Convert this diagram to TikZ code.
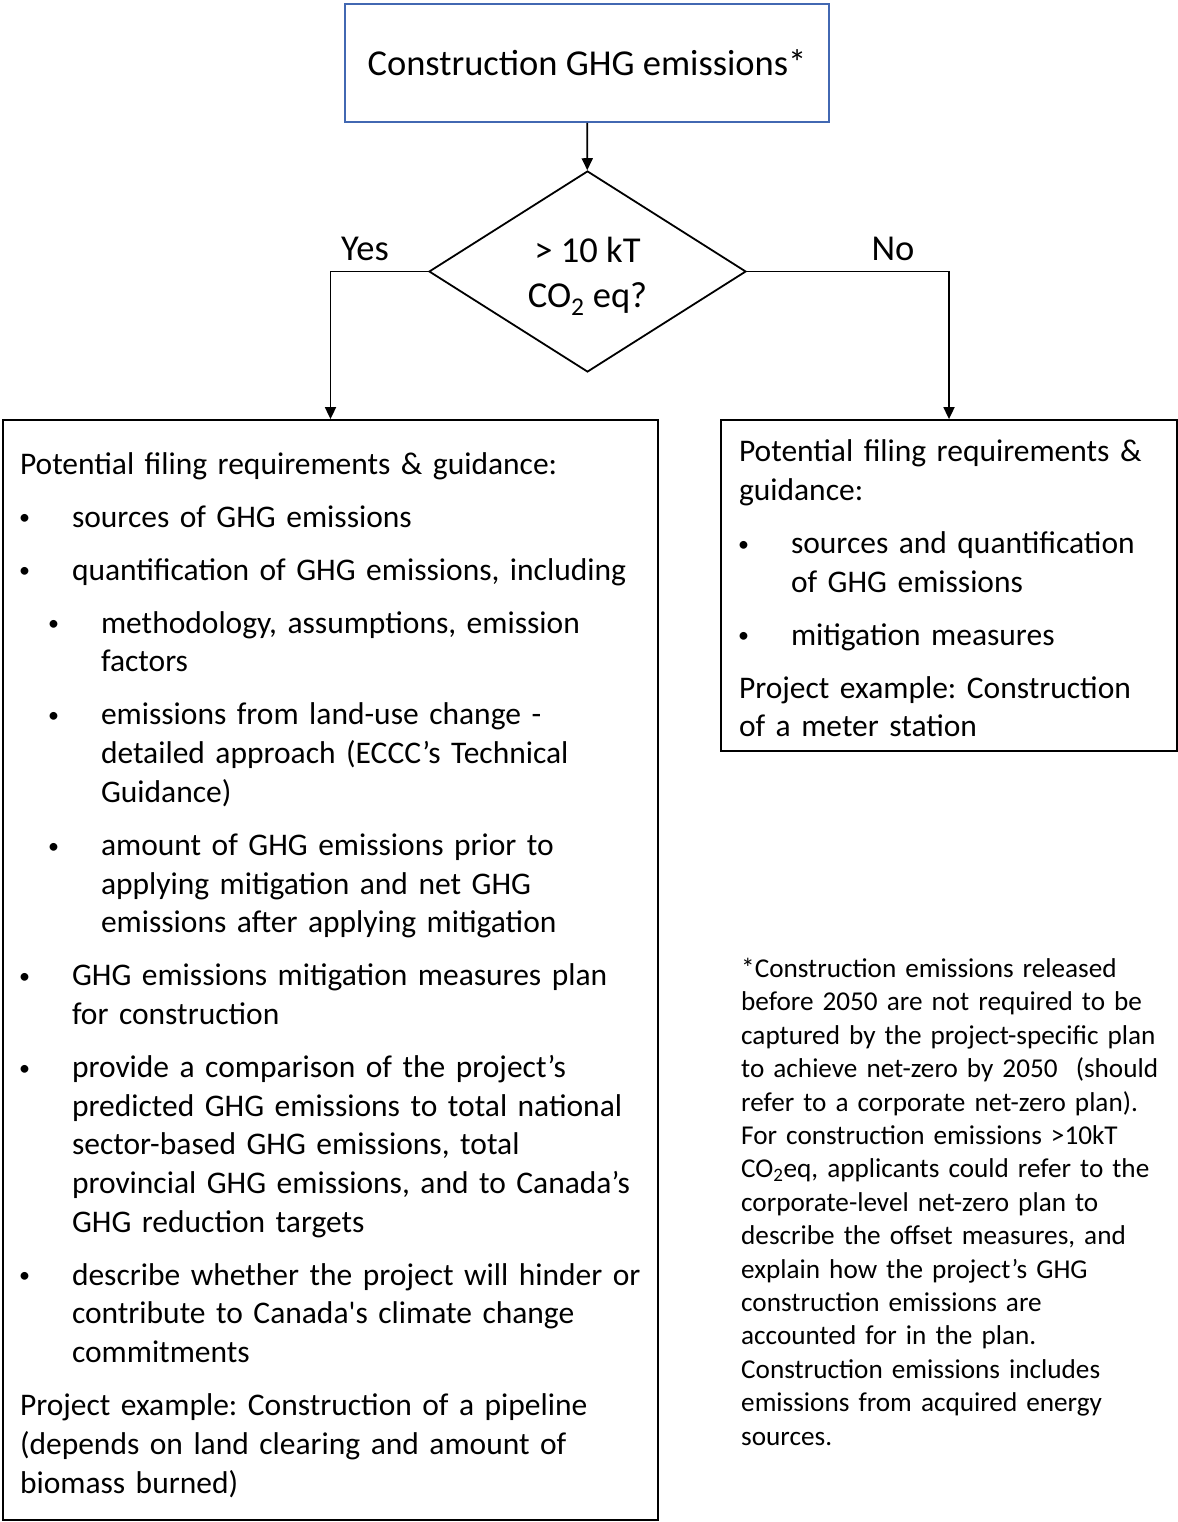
\documentclass[tikz,border=0pt]{standalone}
\usepackage{fontspec}
\setmainfont{Carlito}
\usetikzlibrary{shapes.geometric,arrows.meta}

\definecolor{boxblue}{RGB}{66,104,178}
\newcommand{\bodyfont}{\fontsize{31.5}{38.7}\selectfont\frenchspacing}
\newcommand{\headfont}{\fontsize{36.5}{45}\selectfont\frenchspacing}
\newcommand{\notefont}{\fontsize{27.2}{33.4}\selectfont\frenchspacing}
\newcommand{\bdot}{\raisebox{2.3pt}{\fontsize{22}{22}\selectfont\textbullet}}
\newcommand{\bitem}[1]{\par\hangindent=52pt\hangafter=1\noindent\makebox[52pt][l]{\hspace{-1pt}\bdot}#1}
\newcommand{\sbitem}[1]{\par\hangindent=81pt\hangafter=1\noindent\makebox[81pt][l]{\hspace{28pt}\bdot}#1}
\newcommand{\low}[1]{\raisebox{-5pt}[\height][\depth]{#1}}

\tikzset{
  box/.style={draw, line width=1.8pt, rectangle, inner ysep=0pt, align=left, font=\bodyfont},
  flow/.style={line width=1.8pt, -{Triangle[length=12pt,width=11pt]}}
}

\begin{document}
\begin{tikzpicture}[x=1pt,y=-1pt]
	\useasboundingbox (0,0) rectangle (1177,1522);

	\node[box, draw=boxblue, align=center, font=\headfont, minimum width=484pt, minimum height=118pt] (ghg) at (587,63) {Construction GHG emissions*};

	\node[diamond, draw, line width=1.8pt, aspect=1.58, inner sep=0pt, minimum width=317pt, minimum height=201pt, align=center, font=\headfont] (test) at (587.5,271.5) {\low{> 10 kT}\\ \low{CO\textsubscript{2} eq?}};

	\node[font=\headfont] (yes) at (365,249) {Yes};
	\node[font=\headfont] (no) at (893,249) {No};

	\node[box, inner xsep=17pt, text width=621pt, minimum width=655pt, minimum height=1100pt] (reqbig) at (330.5,970) {\setlength{\parskip}{14.3pt}%
	\rule{0pt}{31.6pt}Potential filing requirements \& guidance:
	\bitem{sources of GHG emissions}
	\bitem{quantification of GHG emissions, including}
	\sbitem{methodology, assumptions, emission\newline factors}
	\sbitem{emissions from land-use change -\newline detailed approach (ECCC’s Technical\newline Guidance)}
	\sbitem{amount of GHG emissions prior to\newline applying mitigation and net GHG\newline emissions after applying mitigation}
	\bitem{GHG emissions mitigation measures plan\newline for construction}
	\bitem{provide a comparison of the project’s\newline predicted GHG emissions to total national\newline sector-based GHG emissions, total\newline provincial GHG emissions, and to Canada’s\newline GHG reduction targets}
	\bitem{describe whether the project will hinder or\newline contribute to Canada\textquotesingle s climate change\newline commitments}
	\par Project example: Construction of a pipeline\newline (depends on land clearing and amount of\newline biomass burned)};

	\node[box, inner xsep=18pt, text width=420pt, minimum width=456pt, minimum height=331pt] (reqsmall) at (949,585.5) {\setlength{\parskip}{14.3pt}%
	\rule{0pt}{27.6pt}Potential filing requirements \&\newline guidance:
	\bitem{sources and quantification\newline of GHG emissions}
	\bitem{mitigation measures}
	\par Project example: Construction\newline of a meter station};

	% footnote for the asterisk
	\node[anchor=north west, inner sep=0pt, text width=430pt, align=left, font=\notefont] (note) at (741,958) {*Construction emissions released\\ before 2050 are not required to be\\ captured by the project-specific plan\\ to achieve net-zero by 2050 \ (should\\ refer to a corporate net-zero plan).\\ For construction emissions >10kT\\ CO\textsubscript{2}eq, applicants could refer to the\\ corporate-level net-zero plan to\\ describe the offset measures, and\\ explain how the project’s GHG\\ construction emissions are\\ accounted for in the plan.\\ Construction emissions includes\\ emissions from acquired energy\\ sources.};

	\draw[flow] (ghg) -- (test);
	\draw[flow] (test.west) -| (reqbig);
	\draw[flow] (test.east) -| (reqsmall);
\end{tikzpicture}
\end{document}
